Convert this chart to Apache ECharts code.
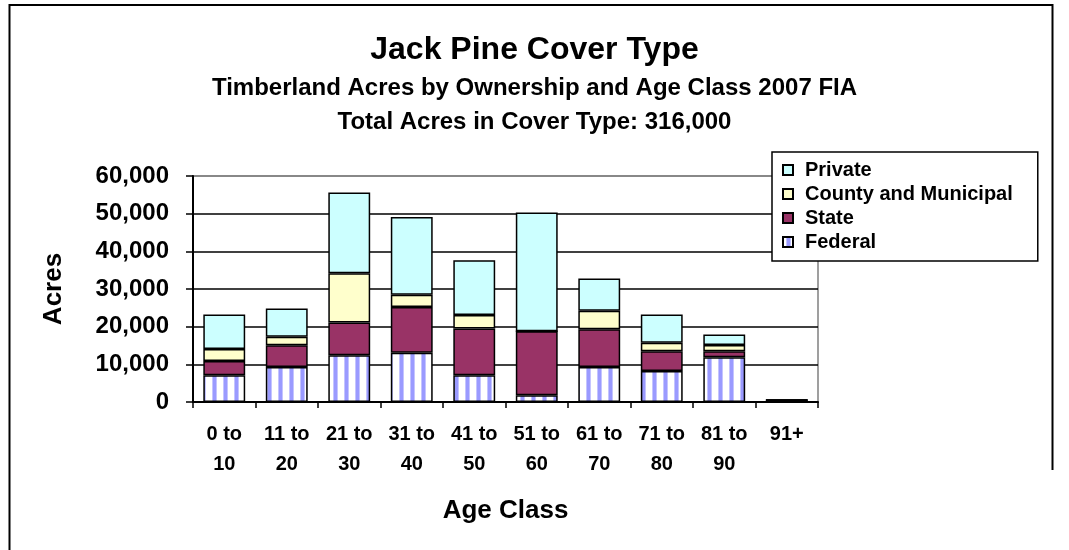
<!DOCTYPE html>
<html>
<head>
<meta charset="utf-8">
<script src="https://cdn.jsdelivr.net/npm/echarts@6/dist/echarts.min.js"></script>
<style>
html,body{margin:0;padding:0;background:#fff;}
#c{width:1069px;height:550px;}
</style>
</head>
<body>
<div id="c"></div>
<script>
var categories = ['0 to\n10','11 to\n20','21 to\n30','31 to\n40','41 to\n50','51 to\n60','61 to\n70','71 to\n80','81 to\n90','91+'];
var federal = [7100, 9300, 12400, 13100, 7100, 1800, 9300, 8200, 11900, 400];
var state   = [3800, 5750, 8700, 12100, 12400, 17000, 10000, 5300, 1600, 100];
var county  = [3200, 2250, 13100, 3300, 3600, 0, 4900, 2200, 1600, 0];
var privateAcres = [9100, 7500, 21400, 20600, 14500, 31500, 8600, 7500, 2800, 100];
var yTicks = [0, 10000, 20000, 30000, 40000, 50000, 60000];

var FONT = '"Liberation Sans", Arial, Helvetica, sans-serif';

// striped pattern for Federal
var pc = document.createElement('canvas');
pc.width = 11; pc.height = 8;
var pctx = pc.getContext('2d');
pctx.fillStyle = '#ffffff';
pctx.fillRect(0, 0, 11, 8);
pctx.fillStyle = '#c4c4ff';
pctx.fillRect(3, 0, 5, 8);
pctx.fillStyle = '#9a9aff';
pctx.fillRect(4, 0, 3, 8);

var chart = echarts.init(document.getElementById('c'), null, {renderer: 'canvas'});

function mkSeries(name, data, color) {
  return {
    name: name,
    type: 'bar',
    stack: 'total',
    data: data,
    barCategoryGap: '33%',
    itemStyle: {color: color, borderColor: '#000', borderWidth: 1.5},
    emphasis: {disabled: true}
  };
}

chart.setOption({
  animation: false,
  backgroundColor: '#fff',
  title: [
    {text: 'Jack Pine Cover Type', left: 'center', top: 29,
     textStyle: {fontFamily: FONT, fontSize: 32, fontWeight: 'bold', color: '#000', lineHeight: 32}},
    {text: 'Timberland Acres by Ownership and Age Class 2007 FIA', left: 'center', top: 71,
     textStyle: {fontFamily: FONT, fontSize: 24, fontWeight: 'bold', color: '#000', lineHeight: 24}},
    {text: 'Total Acres in Cover Type: 316,000', left: 'center', top: 105,
     textStyle: {fontFamily: FONT, fontSize: 24, fontWeight: 'bold', color: '#000', lineHeight: 24}}
  ],
  legend: {
    orient: 'vertical',
    left: 772,
    top: 152,
    padding: [8, 25, 9, 10],
    itemGap: 4,
    itemWidth: 10,
    itemHeight: 10,
    icon: 'rect',
    borderColor: '#000',
    borderWidth: 1.5,
    backgroundColor: '#fff',
    data: ['Private', 'County and Municipal', 'State', 'Federal'],
    textStyle: {fontFamily: FONT, fontSize: 20, fontWeight: 'bold', color: '#000', lineHeight: 20, padding: [0, 0, 0, 7]}
  },
  grid: {
    left: 193, right: 251, top: 176, bottom: 148,
    show: true, borderColor: '#808080', borderWidth: 1.5, backgroundColor: 'transparent'
  },
  xAxis: {
    type: 'category',
    data: categories,
    name: 'Age Class',
    nameLocation: 'middle',
    nameGap: 96,
    nameTextStyle: {fontFamily: FONT, fontSize: 26, fontWeight: 'bold', color: '#000'},
    axisLine: {lineStyle: {color: '#000', width: 2}},
    axisTick: {show: true, length: 6, lineStyle: {color: '#000', width: 1.5}},
    axisLabel: {
      interval: 0, margin: 17,
      fontFamily: FONT, fontSize: 20, fontWeight: 'bold', color: '#000', lineHeight: 30
    }
  },
  yAxis: {
    type: 'value',
    min: yTicks[0],
    max: yTicks[yTicks.length - 1],
    interval: 10000,
    name: 'Acres',
    nameLocation: 'middle',
    nameGap: 126,
    nameRotate: 90,
    nameTextStyle: {fontFamily: FONT, fontSize: 26, fontWeight: 'bold', color: '#000'},
    axisLine: {show: true, lineStyle: {color: '#000', width: 2}},
    axisTick: {show: true, length: 7, lineStyle: {color: '#000', width: 1.5}},
    axisLabel: {
      margin: 24,
      fontFamily: FONT, fontSize: 24, fontWeight: 'bold', color: '#000',
      formatter: function (v) { return v.toLocaleString('en-US'); }
    },
    splitLine: {show: true, lineStyle: {color: ['#000','#000','#000','#000','#000','#000','#808080'], width: 1.5}}
  },
  graphic: [
    {type: 'polyline', shape: {points: [[9.5, 550], [9.5, 5], [1052.5, 5], [1052.5, 470]]},
     style: {stroke: '#000', lineWidth: 2, fill: null}, silent: true, z: 100}
  ],
  series: [
    mkSeries('Federal', federal, {image: pc, repeat: 'repeat'}),
    mkSeries('State', state, '#993366'),
    mkSeries('County and Municipal', county, '#ffffcc'),
    mkSeries('Private', privateAcres, '#ccffff')
  ]
});
</script>
</body>
</html>
